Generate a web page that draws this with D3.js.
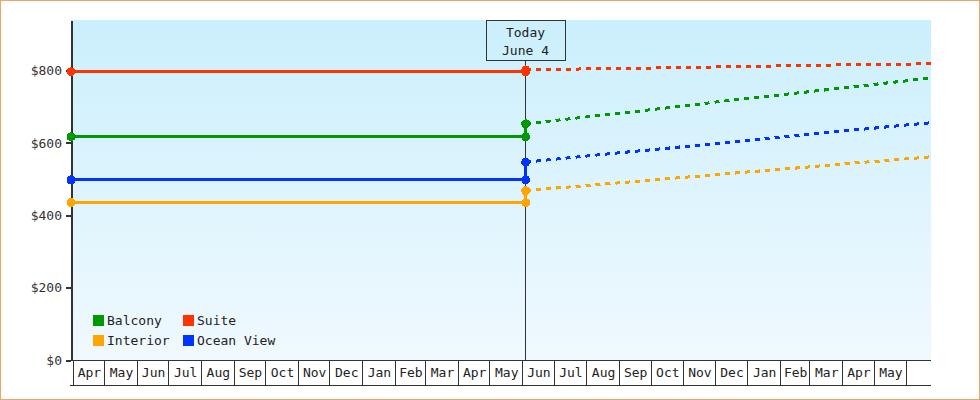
<!DOCTYPE html>
<html>

<head>
  <meta charset="utf-8">
  <title>Cabin price forecast</title>
  <style>
    body {
      margin: 0;
      background: #fff;
    }

    svg {
      display: block;
      font-family: "DejaVu Sans Mono", monospace;
      font-size: 13px;
    }

    .frame {
      fill: #fff;
      stroke: #e6a862;
      stroke-width: 1px;
    }

    .yaxis path,
    .yaxis line {
      stroke: #333;
      stroke-width: 2px;
    }

    .yaxis text {
      fill: #333;
      font-family: "DejaVu Sans Mono", monospace;
      font-size: 13px;
    }

    .month-cell {
      fill: none;
      stroke: #333;
      stroke-width: 1px;
    }

    .month-label,
    .legend text,
    .today-label {
      fill: #222;
    }

    .past {
      fill: none;
      stroke-width: 3px;
    }

    .future {
      fill: none;
      stroke-width: 3px;
      stroke-dasharray: 5, 5;
    }
  </style>
</head>

<body>
  <svg width="980" height="400" shape-rendering="crispEdges"></svg>

  <script src="https://d3js.org/d3.v7.min.js"></script>
  <script>
    // Dados
    var seriesNames = ["Suite", "Balcony", "Ocean View", "Interior"];
    var seriesColors = ["#ff3300", "#009900", "#0033ff", "#ffa500"];
    var legendOrder = ["Balcony", "Interior", "Suite", "Ocean View"];

    var startDate = "2023-03-30";
    var todayDate = "2024-06-04";
    var endDate = "2025-06-24";

    // preço constante até hoje
    var pastPrices = [797, 617, 498, 435];

    // previsão a partir de hoje
    var forecastDates = ["2024-06-04", "2024-07-01", "2024-08-01", "2024-09-01", "2024-10-01",
      "2024-11-01", "2024-12-01", "2025-01-01", "2025-02-01", "2025-03-01", "2025-04-01",
      "2025-05-01", "2025-06-01", "2025-06-24"];
    var suiteForecast = [802, 803, 805, 806, 807, 809, 810, 812, 813, 814, 816, 817, 818, 819];
    var balconyForecast = [653, 662, 672, 682, 692, 702, 713, 723, 733, 742, 752, 762, 772, 780];
    var oceanViewForecast = [547, 555, 564, 573, 581, 590, 598, 607, 616, 624, 633, 641, 650, 656];
    var interiorForecast = [468, 475, 482, 490, 497, 505, 512, 520, 527, 534, 542, 549, 556, 562];
    var forecasts = [suiteForecast, balconyForecast, oceanViewForecast, interiorForecast];

    var yTicks = [0, 200, 400, 600, 800];
    var yMax = 940;

    var parse = d3.timeParse("%Y-%m-%d");
    var start = parse(startDate), today = parse(todayDate), end = parse(endDate);

    var plotLeft = 71, plotTop = 20, plotRight = 931, plotBottom = 360;

    var svg = d3.select("svg");

    svg.append("rect")
      .attr("class", "frame")
      .attr("x", 0.5).attr("y", 0.5)
      .attr("width", 979).attr("height", 399);

    var defs = svg.append("defs");
    var grad = defs.append("linearGradient")
      .attr("id", "bg")
      .attr("x1", 0).attr("y1", 0).attr("x2", 0).attr("y2", 1);
    grad.append("stop").attr("offset", "0%").attr("stop-color", "#cbeffd");
    grad.append("stop").attr("offset", "100%").attr("stop-color", "#f0f9fe");

    var x = d3.scaleTime().domain([start, end]).range([plotLeft, plotRight]);
    var y = d3.scaleLinear().domain([0, yMax]).range([plotBottom, plotTop]);

    svg.append("rect")
      .attr("x", plotLeft).attr("y", plotTop)
      .attr("width", plotRight - plotLeft).attr("height", plotBottom - plotTop)
      .attr("fill", "url(#bg)");

    // Eixo dos meses (caixas)
    var months = d3.timeMonth.range(d3.timeMonth.ceil(start), d3.timeMonth.floor(end));
    var fmt = d3.timeFormat("%b");
    var cells = svg.append("g");
    cells.selectAll("rect")
      .data(months)
      .enter().append("rect")
      .attr("class", "month-cell")
      .attr("x", function (d) { return Math.floor(x(d)) + 0.5; })
      .attr("y", plotBottom + 0.5)
      .attr("width", function (d) { return Math.floor(x(d3.timeMonth.offset(d, 1))) - Math.floor(x(d)); })
      .attr("height", 25);
    cells.selectAll("text")
      .data(months)
      .enter().append("text")
      .attr("class", "month-label")
      .attr("text-anchor", "middle")
      .attr("x", function (d) { return (x(d) + x(d3.timeMonth.offset(d, 1))) / 2 + 0.5; })
      .attr("y", 377)
      .text(function (d) { return fmt(d); });

    svg.append("line")
      .attr("x1", plotLeft - 1).attr("x2", plotRight)
      .attr("y1", plotBottom + 0.5).attr("y2", plotBottom + 0.5)
      .attr("stroke", "#333");
    svg.append("line")
      .attr("x1", plotLeft - 1).attr("x2", plotRight)
      .attr("y1", plotBottom + 25.5).attr("y2", plotBottom + 25.5)
      .attr("stroke", "#333");

    // Eixo Y
    svg.append("g")
      .attr("class", "yaxis")
      .attr("transform", "translate(" + plotLeft + ",0)")
      .call(d3.axisLeft(y).tickValues(yTicks).tickSize(5).tickSizeOuter(0).tickPadding(4)
        .tickFormat(function (d) { return "$" + d; }));

    // Linha de hoje
    var tx = Math.floor(x(today)) + 0.5;
    svg.append("line")
      .attr("x1", tx).attr("x2", tx)
      .attr("y1", plotTop + 40).attr("y2", plotBottom)
      .attr("stroke", "#333");
    svg.append("rect")
      .attr("x", tx - 39.5).attr("y", plotTop + 0.5)
      .attr("width", 79).attr("height", 40)
      .attr("fill", "none").attr("stroke", "#333");
    svg.append("text").attr("class", "today-label")
      .attr("text-anchor", "middle").attr("x", tx).attr("y", 37).text("Today");
    svg.append("text").attr("class", "today-label")
      .attr("text-anchor", "middle").attr("x", tx).attr("y", 55)
      .text("June " + d3.timeFormat("%-d")(today));

    var line = d3.line()
      .x(function (d) { return x(d[0]); })
      .y(function (d) { return y(d[1]); });

    seriesNames.forEach(function (name, i) {
      var color = seriesColors[i];
      var future = forecastDates.map(function (d, j) { return [parse(d), forecasts[i][j]]; });
      var past = [[start, pastPrices[i]], [today, pastPrices[i]], [today, forecasts[i][0]]];

      svg.append("path")
        .attr("class", "future")
        .attr("stroke", color)
        .attr("d", line(future));

      svg.append("path")
        .attr("class", "past")
        .attr("stroke", color)
        .attr("d", line(past));

      svg.selectAll(".dot" + i)
        .data(past)
        .enter().append("circle")
        .attr("cx", function (d) { return x(d[0]); })
        .attr("cy", function (d) { return y(d[1]); })
        .attr("r", 4.5)
        .attr("fill", color);
    });

    // Legenda
    var legend = svg.append("g").attr("class", "legend");
    legendOrder.forEach(function (name, k) {
      var col = Math.floor(k / 2), row = k % 2;
      var lx = 93 + col * 90, ly = 315 + row * 20;
      legend.append("rect")
        .attr("x", lx).attr("y", ly)
        .attr("width", 11).attr("height", 11)
        .attr("fill", seriesColors[seriesNames.indexOf(name)]);
      legend.append("text")
        .attr("x", lx + 14).attr("y", ly + 10)
        .text(name);
    });
  </script>
</body>

</html>
